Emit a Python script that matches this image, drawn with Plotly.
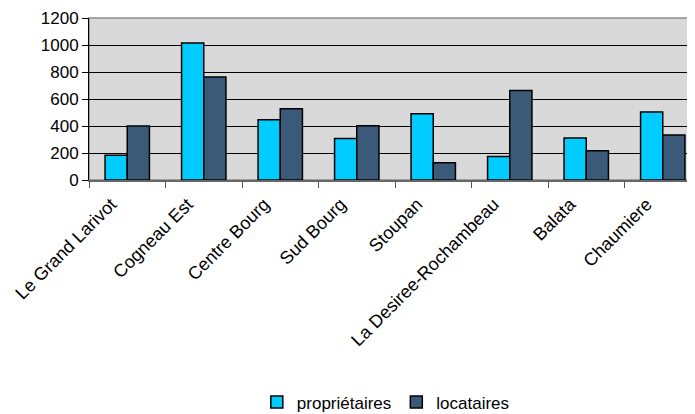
import plotly.graph_objects as go

categories = ["Le Grand Larivot", "Cogneau Est", "Centre Bourg", "Sud Bourg",
              "Stoupan", "La Desiree-Rochambeau", "Balata", "Chaumiere"]
proprietaires = [184, 1015, 447, 307, 491, 174, 311, 503]
locataires = [400, 763, 528, 402, 128, 663, 216, 334]
y_ticks = [0, 200, 400, 600, 800, 1000, 1200]

FONT = "Liberation Sans, Arial, sans-serif"

fig = go.Figure()
fig.add_trace(go.Bar(name="propriétaires", x=categories, y=proprietaires,
                     marker=dict(color="#00CCFF", line=dict(color="#000000", width=1.5))))
fig.add_trace(go.Bar(name="locataires", x=categories, y=locataires,
                     marker=dict(color="#3B5A7A", line=dict(color="#000000", width=1.5))))

fig.update_layout(
    width=695, height=414,
    margin=dict(l=81, r=2, t=10, b=238),
    paper_bgcolor="#FFFFFF",
    plot_bgcolor="#D9D9D9",
    barmode="group",
    bargap=0.42,
    bargroupgap=0,
    font=dict(family=FONT, size=17, color="#000000"),
    showlegend=True,
    legend=dict(orientation="h", x=0.485, xanchor="center", y=-1.373, yanchor="middle",
                font=dict(size=17), itemwidth=30, traceorder="normal"),
    shapes=[dict(type="rect", xref="paper", yref="paper", x0=0, x1=1, y0=0, y1=1,
                 line=dict(color="#8C8C8C", width=1.5), layer="below")],
)
fig.update_xaxes(
    type="category", tickangle=-45, tickson="boundaries",
    ticks="outside", ticklen=6, tickcolor="#555555", tickwidth=1.2,
    showline=True, linecolor="#666666", linewidth=1.5,
    showgrid=False, tickfont=dict(size=18), automargin=False,
    ticklabelstandoff=5, ticklabelshift=-16,
)
fig.update_yaxes(
    range=[0, 1200], tickvals=y_ticks, ticks="outside", ticklen=6,
    tickcolor="#000000", showline=True, linecolor="#000000", linewidth=1,
    showgrid=True, gridcolor="#000000", gridwidth=1, zeroline=False,
    tickfont=dict(size=17), automargin=False, ticklabeloverflow="allow",
)
fig.write_html("out.html")
